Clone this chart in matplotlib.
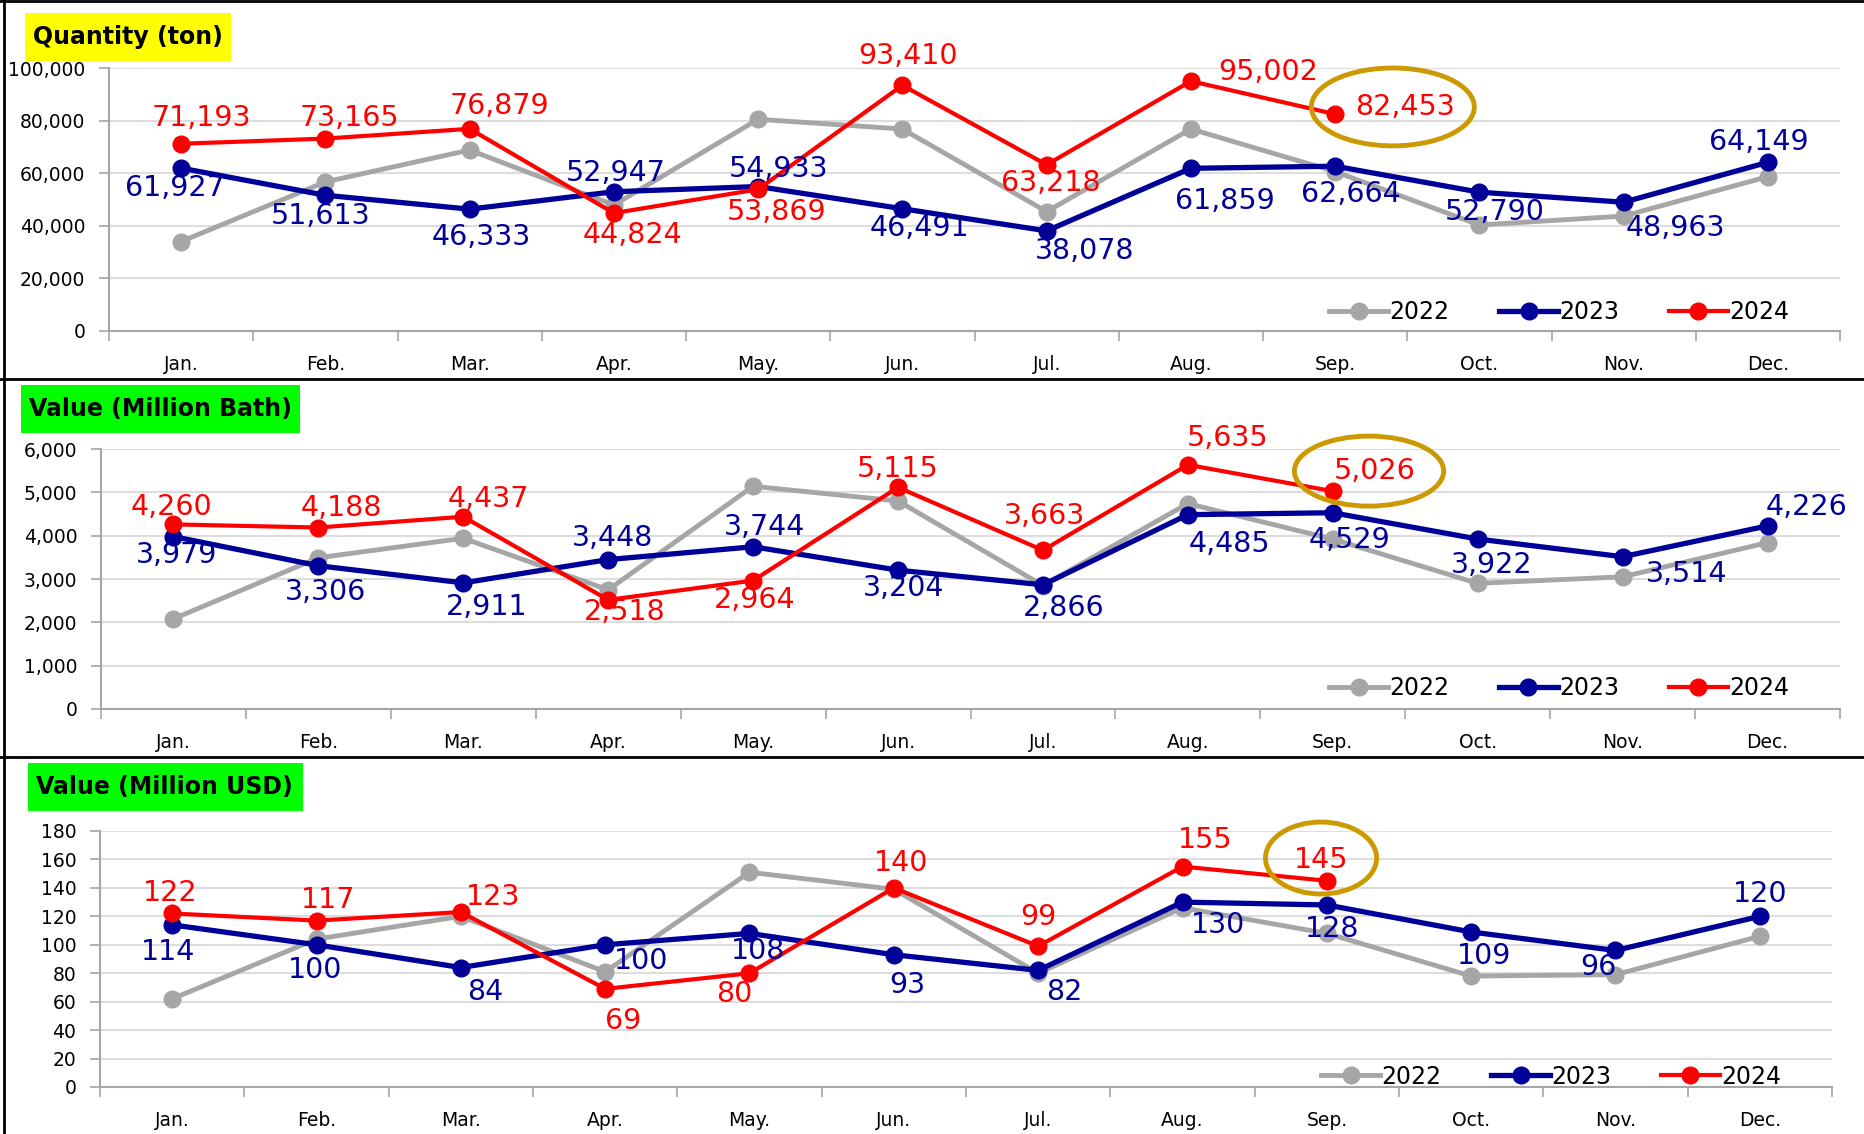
import matplotlib
matplotlib.use('Agg')
import matplotlib.pyplot as plt
from matplotlib.patches import Ellipse, Rectangle
from matplotlib.lines import Line2D

months = ['Jan.', 'Feb.', 'Mar.', 'Apr.', 'May.', 'Jun.', 'Jul.', 'Aug.', 'Sep.', 'Oct.', 'Nov.', 'Dec.']

# Quantity (ton)
qty_2022 = [34000, 56700, 68800, 47900, 80500, 76800, 45400, 76800, 60600, 40300, 43700, 58700]
qty_2023 = [61927, 51613, 46333, 52947, 54933, 46491, 38078, 61859, 62664, 52790, 48963, 64149]
qty_2024 = [71193, 73165, 76879, 44824, 53869, 93410, 63218, 95002, 82453]

# Value (Million Baht)
thb_2022 = [2080, 3490, 3940, 2750, 5140, 4800, 2850, 4740, 3920, 2900, 3050, 3840]
thb_2023 = [3979, 3306, 2911, 3448, 3744, 3204, 2866, 4485, 4529, 3922, 3514, 4226]
thb_2024 = [4260, 4188, 4437, 2518, 2964, 5115, 3663, 5635, 5026]

# Value (Million USD)
usd_2022 = [62, 104, 120, 81, 151, 139, 80, 126, 108, 78, 79, 106]
usd_2023 = [114, 100, 84, 100, 108, 93, 82, 130, 128, 109, 96, 120]
usd_2024 = [122, 117, 123, 69, 80, 140, 99, 155, 145]

C22 = '#A6A6A6'
C23 = '#000099'
C24 = '#FF0000'
GOLD = '#CC9900'

# label offsets in pixels (dx, dy up)
off_q23 = [(-6, -20), (-5, -21), (12, -28), (2, 19), (20, 18), (17, -19), (38, -20), (34, -33), (16, -28), (15, -20), (52, -26), (-9, 20)]
off_q24 = [(20, 26), (24, 21), (30, 23), (19, -22), (18, -23), (6, 29), (4, -18), (77, 9), (70, 7)]
off_b23 = [(3, -18), (7, -26), (23, -24), (4, 22), (11, 20), (6, -18), (21, -23), (42, -29), (17, -27), (14, -26), (64, -17), (39, 19)]
off_b24 = [(-2, 17), (23, 20), (25, 18), (17, -12), (2, -19), (0, 18), (2, 34), (40, 27), (42, 20)]
off_u23 = [(-4, -27), (-1, -25), (24, -24), (36, -16), (9, -18), (13, -30), (26, -22), (36, -23), (5, -24), (13, -24), (-17, -17), (0, 22)]
off_u24 = [(-2, 20), (12, 21), (32, 15), (18, -32), (-15, -21), (7, 25), (0, 29), (23, 27), (-6, 21)]

plt.rcParams['font.family'] = 'DejaVu Sans'

W, H = 1864, 1134
fig = plt.figure(figsize=(W / 100, H / 100), dpi=100)


def fig_rect(left, top, right, bottom):
    return [left / W, 1 - bottom / H, (right - left) / W, (bottom - top) / H]


def draw_panel(rect, v22, v23, v24, off23, off24, ymax, step, legend_y, ell):
    ax = fig.add_axes(rect)
    x = range(12)
    ax.plot(x, v22, '-o', color=C22, lw=3.5, ms=12, label='2022', zorder=3)
    ax.plot(x, v23, '-o', color=C23, lw=3.8, ms=12, label='2023', zorder=4)
    ax.plot(range(len(v24)), v24, '-o', color=C24, lw=3.0, ms=12, label='2024', zorder=5)

    for i, v in enumerate(v23):
        ax.annotate(f'{v:,}', (i, v), xytext=off23[i], textcoords='offset pixels',
                    ha='center', va='center', fontsize=20.5, color=C23, zorder=6)
    for i, v in enumerate(v24):
        ax.annotate(f'{v:,}', (i, v), xytext=off24[i], textcoords='offset pixels',
                    ha='center', va='center', fontsize=20.5, color=C24, zorder=6)

    # highlight latest month
    cx, cy, ew, eh = ell
    ax.add_patch(Ellipse((cx, cy), ew, eh, fill=False, edgecolor=GOLD, lw=3.5, zorder=7, clip_on=False))

    ax.set_xlim(-0.5, 11.5)
    ax.set_ylim(0, ymax)
    ax.set_yticks(range(0, ymax + 1, step))
    ax.set_yticklabels([f'{t:,}' for t in range(0, ymax + 1, step)], fontsize=13.5)
    ax.set_xticks(range(12))
    ax.set_xticklabels(months, fontsize=13.5)
    ax.set_xticks([i - 0.5 for i in range(13)], minor=True)
    ax.tick_params(axis='x', which='major', length=0, pad=17)
    ax.tick_params(axis='x', which='minor', length=7, color='#A6A6A6', width=1.2)
    ax.tick_params(axis='y', length=7, color='#A6A6A6', width=1.2, pad=10)
    ax.grid(axis='y', color='#DDDDDD', lw=1.5, zorder=0)
    for s in ['top', 'right']:
        ax.spines[s].set_visible(False)
    for s in ['left', 'bottom']:
        ax.spines[s].set_color('#A6A6A6')
        ax.spines[s].set_linewidth(1.5)
    ax.set_axisbelow(True)

    leg = ax.legend(loc='center right', bbox_to_anchor=(0.976, legend_y), ncol=3, frameon=False,
                    fontsize=17, handlelength=2.5, handletextpad=0.05, columnspacing=2.1,
                    borderaxespad=0)
    leg.set_zorder(8)
    return ax


# Panel 1: quantity
draw_panel(fig_rect(109, 68, 1840, 331), qty_2022, qty_2023, qty_2024, off_q23, off_q24,
           100000, 20000, 0.072, (8.4, 85200, 1.13, 29600))
# Panel 2: value THB
draw_panel(fig_rect(101, 449, 1840, 709), thb_2022, thb_2023, thb_2024, off_b23, off_b24,
           6000, 1000, 0.08, (8.25, 5490, 1.03, 1615))
# Panel 3: value USD
draw_panel(fig_rect(100, 831, 1832, 1087), usd_2022, usd_2023, usd_2024, off_u23, off_u24,
           180, 20, 0.04, (7.96, 161, 0.77, 50.6))

# Title boxes
titles = [('Quantity (ton)', '#FFFF00', (25, 13, 231, 61)),
          ('Value (Million Bath)', '#00FF00', (21, 385, 300, 433)),
          ('Value (Million USD)', '#00FF00', (28, 763, 303, 811))]
for txt, col, (l, t, r, b) in titles:
    fig.patches.append(Rectangle((l / W, 1 - b / H), (r - l) / W, (b - t) / H,
                                 transform=fig.transFigure, facecolor=col, edgecolor='none'))
    fig.text((l + 8) / W, 1 - (t + b) / 2 / H, txt, fontsize=17, fontweight='bold',
             ha='left', va='center')

# panel frame lines
for yy in [379, 757]:
    fig.add_artist(Line2D([0, 1], [1 - yy / H] * 2, transform=fig.transFigure, color='black', lw=2))
fig.add_artist(Line2D([0, 1], [1 - 1 / H] * 2, transform=fig.transFigure, color='black', lw=2))
fig.add_artist(Line2D([4 / W] * 2, [0, 1], transform=fig.transFigure, color='black', lw=2))

fig.savefig('out.png', dpi=100, facecolor='white')
plt.close(fig)
